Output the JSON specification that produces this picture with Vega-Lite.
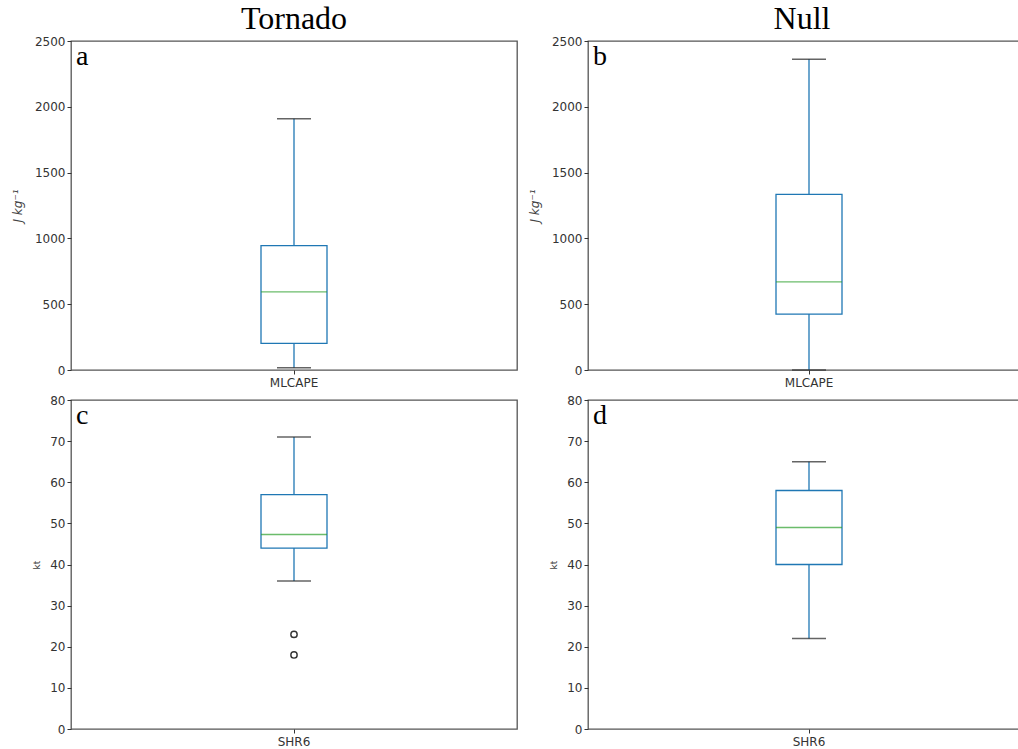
{
  "$schema": "https://vega.github.io/schema/vega-lite/v6.json",
  "background": "white",
  "padding": {"left": 10, "top": 2, "right": 0, "bottom": 0},
  "config": {
    "view": {"stroke": "#555", "strokeWidth": 1.3},
    "axis": {
      "labelFont": "DejaVu Sans", "labelFontSize": 12, "labelColor": "#333",
      "tickColor": "#333", "tickSize": 4, "tickWidth": 1, "domain": false, "grid": false,
      "titleFont": "DejaVu Sans", "titleFontWeight": "normal", "titleColor": "#444"
    },
    "title": {"font": "Liberation Serif", "fontSize": 32, "fontWeight": "normal", "color": "#000"}
  },
  "datasets": {
    "boxes": [
      {"panel": "a", "variable": "MLCAPE", "lower": 18, "q1": 203, "median": 593, "q3": 945, "upper": 1910},
      {"panel": "b", "variable": "MLCAPE", "lower": 0, "q1": 425, "median": 669, "q3": 1335, "upper": 2361},
      {"panel": "c", "variable": "SHR6", "lower": 36, "q1": 44, "median": 47.3, "q3": 57, "upper": 71},
      {"panel": "d", "variable": "SHR6", "lower": 22, "q1": 40, "median": 49, "q3": 58, "upper": 65}
    ],
    "outliers": [
      {"panel": "c", "variable": "SHR6", "value": 23},
      {"panel": "c", "variable": "SHR6", "value": 18}
    ]
  },
  "columns": 2,
  "spacing": {"row": 30, "column": 71},
  "bounds": "flush",
  "concat": [
    {
      "width": 446, "height": 329,
      "title": {"text": "Tornado", "anchor": "middle", "baseline": "alphabetic", "offset": -26, "frame": "group"},
      "data": {"name": "boxes"},
      "transform": [{"filter": "datum.panel === 'a'"}],
      "encoding": {
        "x": {"field": "variable", "type": "nominal", "scale": {"paddingInner": 0, "paddingOuter": 0},
              "axis": {"title": null, "labelAngle": 0, "labelPadding": 3}}
      },
      "layer": [
        {"mark": {"type": "rule", "color": "#1f77b4", "strokeWidth": 1.3},
         "encoding": {"y": {"field": "lower", "type": "quantitative", "scale": {"domain": [0, 2500], "nice": false},
                            "axis": {"values": [0, 500, 1000, 1500, 2000, 2500], "format": "d", "title": "J kg⁻¹", "titleFontSize": 12, "titleFontStyle": "italic", "titlePadding": 10}},
                      "y2": {"field": "upper"}}},
        {"mark": {"type": "bar", "width": 66, "fill": "white", "stroke": "#1f77b4", "strokeWidth": 1.3},
         "encoding": {"y": {"field": "q1", "type": "quantitative"}, "y2": {"field": "q3"}}},
        {"mark": {"type": "tick", "size": 66, "thickness": 1.3, "color": "#2ca02c"},
         "encoding": {"y": {"field": "median", "type": "quantitative"}}},
        {"mark": {"type": "tick", "size": 34, "thickness": 1.5, "color": "#222"},
         "encoding": {"y": {"field": "lower", "type": "quantitative"}}},
        {"mark": {"type": "tick", "size": 34, "thickness": 1.5, "color": "#222"},
         "encoding": {"y": {"field": "upper", "type": "quantitative"}}},
        {"mark": {"type": "text", "align": "left", "baseline": "top", "dx": 5, "dy": 2, "font": "Liberation Serif", "fontSize": 28, "color": "#000"},
         "encoding": {"x": {"field": "variable", "type": "nominal", "bandPosition": 0},
                      "y": {"datum": 2500, "type": "quantitative"},
                      "text": {"field": "panel"}}}
      ]
    },
    {
      "width": 442, "height": 329,
      "title": {"text": "Null", "anchor": "middle", "baseline": "alphabetic", "offset": -26, "dx": -7, "frame": "group"},
      "data": {"name": "boxes"},
      "transform": [{"filter": "datum.panel === 'b'"}],
      "encoding": {
        "x": {"field": "variable", "type": "nominal", "scale": {"paddingInner": 0, "paddingOuter": 0},
              "axis": {"title": null, "labelAngle": 0, "labelPadding": 3}}
      },
      "layer": [
        {"mark": {"type": "rule", "color": "#1f77b4", "strokeWidth": 1.3},
         "encoding": {"y": {"field": "lower", "type": "quantitative", "scale": {"domain": [0, 2500], "nice": false},
                            "axis": {"values": [0, 500, 1000, 1500, 2000, 2500], "format": "d", "title": "J kg⁻¹", "titleFontSize": 12, "titleFontStyle": "italic", "titlePadding": 10}},
                      "y2": {"field": "upper"}}},
        {"mark": {"type": "bar", "width": 66, "fill": "white", "stroke": "#1f77b4", "strokeWidth": 1.3},
         "encoding": {"y": {"field": "q1", "type": "quantitative"}, "y2": {"field": "q3"}}},
        {"mark": {"type": "tick", "size": 66, "thickness": 1.3, "color": "#2ca02c"},
         "encoding": {"y": {"field": "median", "type": "quantitative"}}},
        {"mark": {"type": "tick", "size": 34, "thickness": 1.5, "color": "#222"},
         "encoding": {"y": {"field": "lower", "type": "quantitative"}}},
        {"mark": {"type": "tick", "size": 34, "thickness": 1.5, "color": "#222"},
         "encoding": {"y": {"field": "upper", "type": "quantitative"}}},
        {"mark": {"type": "text", "align": "left", "baseline": "top", "dx": 5, "dy": 2, "font": "Liberation Serif", "fontSize": 28, "color": "#000"},
         "encoding": {"x": {"field": "variable", "type": "nominal", "bandPosition": 0},
                      "y": {"datum": 2500, "type": "quantitative"},
                      "text": {"field": "panel"}}}
      ]
    },
    {
      "width": 446, "height": 329,
      "data": {"name": "boxes"},
      "transform": [{"filter": "datum.panel === 'c'"}],
      "encoding": {
        "x": {"field": "variable", "type": "nominal", "scale": {"paddingInner": 0, "paddingOuter": 0},
              "axis": {"title": null, "labelAngle": 0, "labelPadding": 3}}
      },
      "layer": [
        {"mark": {"type": "rule", "color": "#1f77b4", "strokeWidth": 1.3},
         "encoding": {"y": {"field": "lower", "type": "quantitative", "scale": {"domain": [0, 80], "nice": false},
                            "axis": {"values": [0, 10, 20, 30, 40, 50, 60, 70, 80], "title": "kt", "titleFontSize": 9, "titlePadding": 8}},
                      "y2": {"field": "upper"}}},
        {"mark": {"type": "bar", "width": 66, "fill": "white", "stroke": "#1f77b4", "strokeWidth": 1.3},
         "encoding": {"y": {"field": "q1", "type": "quantitative"}, "y2": {"field": "q3"}}},
        {"mark": {"type": "tick", "size": 66, "thickness": 1.3, "color": "#2ca02c"},
         "encoding": {"y": {"field": "median", "type": "quantitative"}}},
        {"mark": {"type": "tick", "size": 34, "thickness": 1.5, "color": "#222"},
         "encoding": {"y": {"field": "lower", "type": "quantitative"}}},
        {"mark": {"type": "tick", "size": 34, "thickness": 1.5, "color": "#222"},
         "encoding": {"y": {"field": "upper", "type": "quantitative"}}},
        {"data": {"name": "outliers"},
         "transform": [{"filter": "datum.panel === 'c'"}],
         "mark": {"type": "point", "shape": "circle", "filled": false, "size": 40, "stroke": "#333", "strokeWidth": 1.4, "opacity": 1},
         "encoding": {"y": {"field": "value", "type": "quantitative"}}},
        {"mark": {"type": "text", "align": "left", "baseline": "top", "dx": 5, "dy": 2, "font": "Liberation Serif", "fontSize": 28, "color": "#000"},
         "encoding": {"x": {"field": "variable", "type": "nominal", "bandPosition": 0},
                      "y": {"datum": 80, "type": "quantitative"},
                      "text": {"field": "panel"}}}
      ]
    },
    {
      "width": 442, "height": 329,
      "data": {"name": "boxes"},
      "transform": [{"filter": "datum.panel === 'd'"}],
      "encoding": {
        "x": {"field": "variable", "type": "nominal", "scale": {"paddingInner": 0, "paddingOuter": 0},
              "axis": {"title": null, "labelAngle": 0, "labelPadding": 3}}
      },
      "layer": [
        {"mark": {"type": "rule", "color": "#1f77b4", "strokeWidth": 1.3},
         "encoding": {"y": {"field": "lower", "type": "quantitative", "scale": {"domain": [0, 80], "nice": false},
                            "axis": {"values": [0, 10, 20, 30, 40, 50, 60, 70, 80], "title": "kt", "titleFontSize": 9, "titlePadding": 8}},
                      "y2": {"field": "upper"}}},
        {"mark": {"type": "bar", "width": 66, "fill": "white", "stroke": "#1f77b4", "strokeWidth": 1.3},
         "encoding": {"y": {"field": "q1", "type": "quantitative"}, "y2": {"field": "q3"}}},
        {"mark": {"type": "tick", "size": 66, "thickness": 1.3, "color": "#2ca02c"},
         "encoding": {"y": {"field": "median", "type": "quantitative"}}},
        {"mark": {"type": "tick", "size": 34, "thickness": 1.5, "color": "#222"},
         "encoding": {"y": {"field": "lower", "type": "quantitative"}}},
        {"mark": {"type": "tick", "size": 34, "thickness": 1.5, "color": "#222"},
         "encoding": {"y": {"field": "upper", "type": "quantitative"}}},
        {"mark": {"type": "text", "align": "left", "baseline": "top", "dx": 5, "dy": 2, "font": "Liberation Serif", "fontSize": 28, "color": "#000"},
         "encoding": {"x": {"field": "variable", "type": "nominal", "bandPosition": 0},
                      "y": {"datum": 80, "type": "quantitative"},
                      "text": {"field": "panel"}}}
      ]
    }
  ]
}
